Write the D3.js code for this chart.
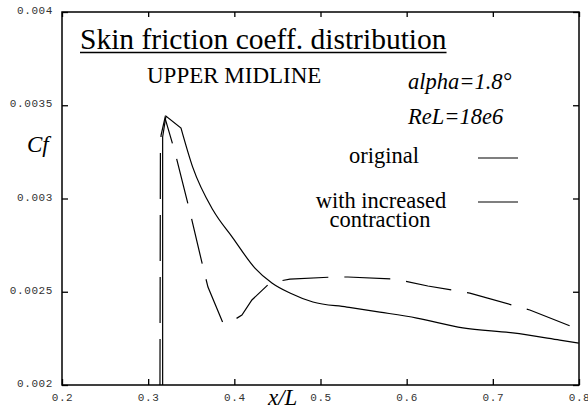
<!DOCTYPE html>
<html>
<head>
<meta charset="utf-8">
<script src="https://cdn.jsdelivr.net/npm/d3@7"></script>
<style>
  html, body { margin: 0; padding: 0; background: #fff; }
  svg { display: block; }
</style>
</head>
<body>
<svg id="chart" width="588" height="409"></svg>
<script>
// ---- data ----
const xTicks = [0.2, 0.3, 0.4, 0.5, 0.6, 0.7, 0.8];
const xTickLabels = ["0.2", "0.3", "0.4", "0.5", "0.6", "0.7", "0.8"];
const yTicks = [0.002, 0.0025, 0.003, 0.0035, 0.004];
const yTickLabels = ["0.002", "0.0025", "0.003", "0.0035", "0.004"];

// original (solid)
const originalX = [0.3168, 0.3168, 0.3206, 0.3381, 0.3520, 0.3752, 0.3984, 0.4239, 0.4436, 0.4645, 0.4912, 0.5306, 0.5689, 0.6118, 0.6652, 0.7232, 0.7777, 0.7998];
const originalY = [0.002, 0.00333, 0.003442, 0.003378, 0.003164, 0.002938, 0.002788, 0.002627, 0.002547, 0.002493, 0.002445, 0.002418, 0.002391, 0.002359, 0.002306, 0.002279, 0.002241, 0.002225];

// with increased contraction (dashed)
const contractionX = [0.3137, 0.3142, 0.3150, 0.3195, 0.3311, 0.3485, 0.3636, 0.3694, 0.3868, 0.3937, 0.4088, 0.4204, 0.4413, 0.4645, 0.5144, 0.5318, 0.5863, 0.6246, 0.6733, 0.7429, 0.7928];
const contractionY = [0.002, 0.00326, 0.00334, 0.003432, 0.003249, 0.002928, 0.002633, 0.002525, 0.002332, 0.002332, 0.002375, 0.002456, 0.002547, 0.002568, 0.002579, 0.002579, 0.002568, 0.002531, 0.002493, 0.002402, 0.002311];

const seriesNames = ["original", "with increased|contraction"];

// ---- layout ----
const svg = d3.select("#chart");
const L = 62, R = 579, T = 12, B = 385;
const x = d3.scaleLinear().domain([0.2, 0.8]).range([L, R]);
const y = d3.scaleLinear().domain([0.002, 0.004]).range([B, T]);

const serif = "'Liberation Serif', 'Times New Roman', serif";
const mono = "'Liberation Mono', 'Courier New', monospace";

// frame
svg.append("rect").attr("x", L).attr("y", T).attr("width", R - L).attr("height", B - T)
  .attr("fill", "none").attr("stroke", "#000").attr("stroke-width", 1.5);

// axes with inward ticks
const fmtX = (d) => xTickLabels[xTicks.indexOf(d)];
const fmtY = (d) => yTickLabels[yTicks.indexOf(d)];

const bottomAxis = svg.append("g").attr("transform", `translate(0,${B})`)
  .call(d3.axisBottom(x).tickValues(xTicks).tickSizeInner(-6).tickSizeOuter(0).tickFormat(fmtX));
const topAxis = svg.append("g").attr("transform", `translate(0,${T})`)
  .call(d3.axisTop(x).tickValues(xTicks).tickSizeInner(-5).tickSizeOuter(0).tickFormat(""));
const leftAxis = svg.append("g").attr("transform", `translate(${L},0)`)
  .call(d3.axisLeft(y).tickValues(yTicks).tickSizeInner(-6).tickSizeOuter(0).tickPadding(9).tickFormat(fmtY));
const rightAxis = svg.append("g").attr("transform", `translate(${R},0)`)
  .call(d3.axisRight(y).tickValues(yTicks).tickSizeInner(-6).tickSizeOuter(0).tickFormat(""));

[bottomAxis, topAxis, leftAxis, rightAxis].forEach(g => {
  g.select(".domain").remove();
  g.selectAll(".tick line").attr("stroke", "#000").attr("stroke-width", 1.3);
  g.selectAll("text").attr("font-family", mono).attr("font-size", 11)
    .attr("letter-spacing", 0.6).attr("fill", "#333");
});
bottomAxis.selectAll("text").attr("dy", null).attr("y", 16);
leftAxis.selectAll("text").attr("dy", "0.15em");

// lines
const lineLinear = d3.line().x(d => x(d[0])).y(d => y(d[1]));
const lineSmooth = d3.line().x(d => x(d[0])).y(d => y(d[1])).curve(d3.curveMonotoneX);
const origData = originalX.map((v, i) => [v, originalY[i]]);
const contData = contractionX.map((v, i) => [v, contractionY[i]]);

// sharp rise and peak (linear) + smooth decay, joined into one path
const dOrig = lineLinear(origData.slice(0, 4)) + lineSmooth(origData.slice(3)).replace(/^M[^LC]*/, "");
svg.append("path").attr("d", dOrig)
  .attr("fill", "none").attr("stroke", "#000").attr("stroke-width", 1.2);
svg.append("path").datum(contData).attr("d", lineLinear)
  .attr("fill", "none").attr("stroke", "#000").attr("stroke-width", 1.2)
  .attr("stroke-dasharray", "46,16");

// title
const title = svg.append("text").attr("x", 80).attr("y", 49)
  .attr("font-family", serif).attr("font-size", 29.5).attr("fill", "#000")
  .text("Skin friction coeff. distribution");
const tw = title.node().getComputedTextLength();
svg.append("line").attr("x1", 80).attr("x2", 80 + tw).attr("y1", 52.5).attr("y2", 52.5)
  .attr("stroke", "#000").attr("stroke-width", 1.6);

svg.append("text").attr("x", 147).attr("y", 83)
  .attr("font-family", serif).attr("font-size", 23).text("UPPER MIDLINE");

svg.append("text").attr("x", 408).attr("y", 89)
  .attr("font-family", serif).attr("font-style", "italic").attr("font-size", 22.5).text("alpha=1.8°");
svg.append("text").attr("x", 408).attr("y", 124)
  .attr("font-family", serif).attr("font-style", "italic").attr("font-size", 22.5).text("ReL=18e6");

// axis titles
svg.append("text").attr("x", 27).attr("y", 152)
  .attr("font-family", serif).attr("font-style", "italic").attr("font-size", 23).text("Cf");
svg.append("text").attr("x", 268).attr("y", 405)
  .attr("font-family", serif).attr("font-style", "italic").attr("font-size", 23).text("x/L");

// legend
const legY = [158, 202];
const legText = svg.append("g").attr("font-family", serif).attr("font-size", 22.5).attr("text-anchor", "middle");
legText.append("text").attr("x", 384).attr("y", 163).text(seriesNames[0]);
const parts = seriesNames[1].split("|");
legText.append("text").attr("x", 381).attr("y", 208).text(parts[0]);
legText.append("text").attr("x", 380).attr("y", 227).text(parts[1]);
legY.forEach(ly => {
  svg.append("line").attr("x1", 478).attr("x2", 518).attr("y1", ly).attr("y2", ly)
    .attr("stroke", "#000").attr("stroke-width", 1.2);
});
</script>
</body>
</html>
